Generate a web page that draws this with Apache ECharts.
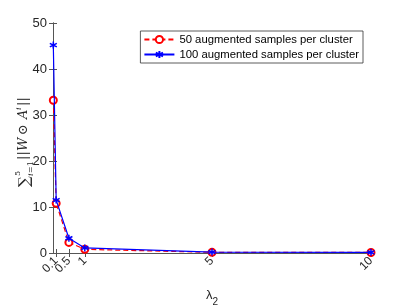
<!DOCTYPE html>
<html><head><meta charset="utf-8">
<script src="https://cdn.jsdelivr.net/npm/echarts@6/dist/echarts.min.js"></script>
<style>html,body{margin:0;padding:0;background:#fff}#c{width:409px;height:307px}</style>
</head><body><div id="c"></div>
<script>
const lambdaValues = [0.01, 0.1, 0.5, 1, 5, 10];
const series50 = [33.2, 10.8, 2.3, 0.8, 0.15, 0.12];
const series100 = [45.2, 11.5, 3.2, 1.1, 0.2, 0.15];
const xTicks = [0.1, 0.5, 1, 5, 10];
const xLabelsMain = [0.1, 1, 5, 10];
const xLabelsExtra = [0.5];
const seriesNames = ['50 augmented samples per cluster', '100 augmented samples per cluster'];

const font = 'Liberation Sans, Arial, Helvetica, sans-serif';
const serif = 'DejaVu Serif, Liberation Serif, serif';
const axisCol = '#555';
const txtCol = '#262626';
const asterisk = 'path://M0,-5L0,5M-4.33,-2.5L4.33,2.5M-4.33,2.5L4.33,-2.5';

const chart = echarts.init(document.getElementById('c'), null, {renderer: 'canvas'});
const baseX = {
  type: 'value', min: 0, max: 10,
  axisLine: {show: true, lineStyle: {color: axisCol, width: 1}},
  splitLine: {show: false}
};
const labelBase = {show: true, rotate: 45, fontSize: 12, color: txtCol, margin: 6,
  interval: 0, hideOverlap: false, showMinLabel: true, showMaxLabel: true,
  formatter: v => String(v)};
function T(text, x, y, size, opts) {
  return Object.assign({type: 'text', x: x, y: y,
    style: Object.assign({text: text, fontSize: size, fontFamily: serif, fill: txtCol,
      textVerticalAlign: 'middle', verticalAlign: 'middle'}, opts || {})});
}
chart.setOption({
  animation: false,
  textStyle: {fontFamily: font},
  grid: {left: 53, right: 38, top: 23, bottom: 54, containLabel: false, outerBoundsMode: 'none'},
  legend: {
    right: 46, top: 31, orient: 'vertical',
    data: seriesNames,
    backgroundColor: '#fff', borderColor: '#333', borderWidth: 0.8,
    padding: [3, 4, 3, 3], itemGap: 4, itemWidth: 30, itemHeight: 9,
    textStyle: {fontSize: 11.3, color: '#000', fontFamily: font}
  },
  graphic: [{
    type: 'group', x: 24, y: 137, rotation: Math.PI / 2,
    children: [
      T('∑', -50, 1, 15, {align: 'left'}),
      T('5', -39, -6, 8, {align: 'left'}),
      T('i', -39, 7, 8, {align: 'left', fontStyle: 'italic'}),
      T('=1', -36, 7, 8, {align: 'left'}),
      T('||', -23, 0, 13, {align: 'left'}),
      T('W', -14, 0, 13, {align: 'left', fontStyle: 'italic'}),
      T('⊙', 2, 0, 13, {align: 'left'}),
      T('A', 18, 0, 13, {align: 'left', fontStyle: 'italic'}),
      T('i', 27, -5, 8, {align: 'left', fontStyle: 'italic'}),
      T('||', 31, 0, 13, {align: 'left'})
    ]
  }],
  xAxis: [
    Object.assign({}, baseX, {
      position: 'bottom',
      name: '{a|λ}{b|2}', nameLocation: 'middle', nameGap: 36,
      nameTextStyle: {rich: {
        a: {fontSize: 13, color: txtCol, fontFamily: font, verticalAlign: 'top', lineHeight: 18},
        b: {fontSize: 10, color: txtCol, fontFamily: font, verticalAlign: 'bottom', lineHeight: 18}
      }},
      axisTick: {show: true, inside: true, length: 4, customValues: xTicks, lineStyle: {color: axisCol}},
      axisLabel: Object.assign({}, labelBase, {customValues: xLabelsMain})
    }),
    Object.assign({}, baseX, {
      position: 'top',
      axisTick: {show: true, inside: true, length: 4, customValues: xTicks, lineStyle: {color: axisCol}},
      axisLabel: {show: false}
    }),
    Object.assign({}, baseX, {
      position: 'bottom', offset: 0,
      axisLine: {show: false},
      axisTick: {show: false},
      axisLabel: Object.assign({}, labelBase, {customValues: xLabelsExtra})
    })
  ],
  yAxis: [
    {
      type: 'value', min: 0, max: 50, interval: 10, position: 'left',
      axisLine: {show: true, lineStyle: {color: axisCol}},
      axisTick: {show: true, inside: true, length: 4, lineStyle: {color: axisCol}},
      axisLabel: {fontSize: 13, color: txtCol, margin: 6},
      splitLine: {show: false}
    },
    {
      type: 'value', min: 0, max: 50, interval: 10, position: 'right',
      axisLine: {show: true, lineStyle: {color: axisCol}},
      axisTick: {show: true, inside: true, length: 4, lineStyle: {color: axisCol}},
      axisLabel: {show: false},
      splitLine: {show: false}
    }
  ],
  series: [
    {
      name: seriesNames[0], type: 'line', xAxisIndex: 0, yAxisIndex: 0,
      data: lambdaValues.map((x, i) => [x, series50[i]]),
      symbol: 'emptyCircle', symbolSize: 7, showAllSymbol: true,
      lineStyle: {color: '#ff0000', width: 1.2, type: [5, 3]},
      itemStyle: {color: '#ff0000', borderColor: '#ff0000', borderWidth: 1.2},
      z: 2
    },
    {
      name: seriesNames[1], type: 'line', xAxisIndex: 0, yAxisIndex: 0,
      data: lambdaValues.map((x, i) => [x, series100[i]]),
      symbol: asterisk, symbolSize: 7, showAllSymbol: true,
      lineStyle: {color: '#0000ff', width: 1.2},
      itemStyle: {color: '#0000ff', borderColor: '#0000ff', borderWidth: 1.5},
      z: 3
    }
  ]
});
</script></body></html>
